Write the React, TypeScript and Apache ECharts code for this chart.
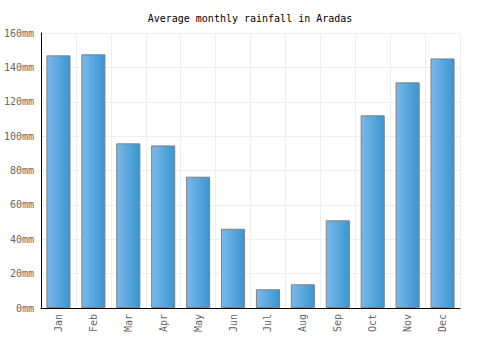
import React, { useEffect, useRef } from "react";
import * as echarts from "echarts";

const months = ["Jan", "Feb", "Mar", "Apr", "May", "Jun", "Jul", "Aug", "Sep", "Oct", "Nov", "Dec"];
const rainfall = [147, 147.6, 95.8, 94.6, 76.4, 46.1, 10.9, 13.8, 51.0, 112.1, 131.3, 145.2];
const yMax = 160;
const yInterval = 20;

export default function App() {
  const ref = useRef<HTMLDivElement>(null);
  useEffect(() => {
    if (!ref.current) return;
    const chart = echarts.init(ref.current, undefined, { renderer: "svg" });
    const font = "'DejaVu Sans Mono', monospace";
    chart.setOption({
      animation: false,
      title: {
        text: "Average monthly rainfall in Aradas",
        left: "center",
        top: 8,
        textStyle: { fontFamily: font, fontSize: 10, fontWeight: "normal", color: "#000" },
      },
      grid: { left: 41, right: 40, top: 33, bottom: 42 },
      xAxis: {
        type: "category",
        data: months,
        axisLine: { lineStyle: { color: "#000", width: 1 } },
        axisTick: { show: false },
        axisLabel: { rotate: 90, fontFamily: font, fontSize: 10, color: "#666", margin: 6 },
        splitLine: { show: true, lineStyle: { color: "#eeeeee" } },
      },
      yAxis: {
        type: "value",
        min: 0,
        max: yMax,
        interval: yInterval,
        axisLine: { show: true, lineStyle: { color: "#000", width: 1 } },
        axisTick: { show: false },
        axisLabel: { formatter: "{value}mm", fontFamily: font, fontSize: 10, color: "#666", margin: 7 },
        splitLine: { lineStyle: { color: "#eeeeee" } },
      },
      series: [
        {
          type: "bar",
          data: rainfall,
          barCategoryGap: "31%",
          itemStyle: {
            color: new echarts.graphic.LinearGradient(0, 0, 1, 0, [
              { offset: 0, color: "#7bb8ec" },
              { offset: 1, color: "#3996cf" },
            ]),
            borderColor: "#808080",
            borderWidth: 1,
          },
        },
      ],
    });
    return () => chart.dispose();
  }, []);
  return <div ref={ref} style={{ position: "absolute", left: 0, top: 0, width: 500, height: 350 }} />;
}
